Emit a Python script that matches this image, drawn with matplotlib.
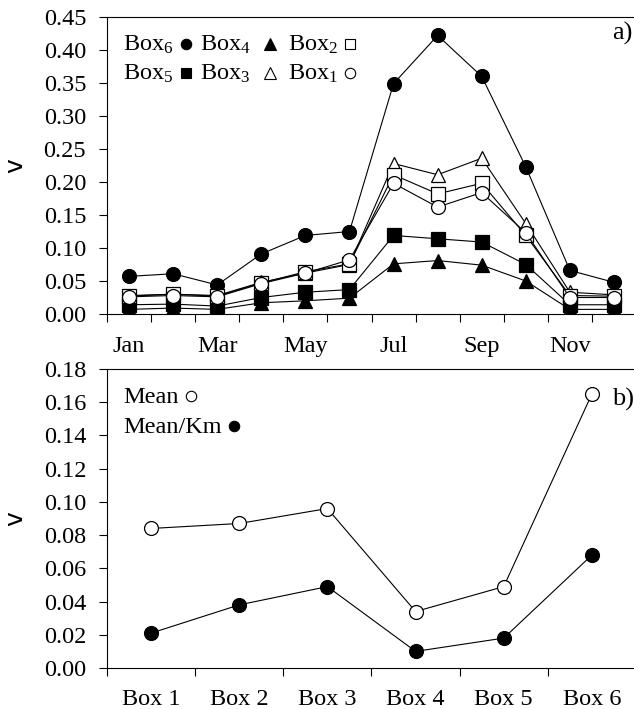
import numpy as np
import matplotlib
matplotlib.use("Agg")
import matplotlib.pyplot as plt

plt.rcParams["font.family"] = ["Liberation Serif", "DejaVu Serif"]
plt.rcParams["mathtext.fontset"] = "custom"
plt.rcParams["mathtext.rm"] = "Liberation Serif"
plt.rcParams["mathtext.it"] = "Liberation Serif:italic"

# panel a) monthly values per box
months = ["Jan", "Feb", "Mar", "Apr", "May", "Jun",
          "Jul", "Aug", "Sep", "Oct", "Nov", "Dec"]
box6 = [0.057, 0.061, 0.044, 0.091, 0.119, 0.125, 0.349, 0.422, 0.360, 0.223, 0.066, 0.048]
box5 = [0.014, 0.015, 0.012, 0.025, 0.033, 0.037, 0.119, 0.114, 0.109, 0.075, 0.014, 0.014]
box4 = [0.007, 0.009, 0.007, 0.017, 0.020, 0.024, 0.076, 0.081, 0.074, 0.050, 0.007, 0.007]
box3 = [0.028, 0.030, 0.028, 0.048, 0.062, 0.075, 0.228, 0.211, 0.236, 0.137, 0.033, 0.029]
box2 = [0.027, 0.030, 0.027, 0.047, 0.064, 0.076, 0.211, 0.182, 0.198, 0.119, 0.028, 0.027]
box1 = [0.026, 0.028, 0.026, 0.046, 0.062, 0.082, 0.198, 0.162, 0.184, 0.123, 0.025, 0.025]

# panel b) means per box
boxes = ["Box 1", "Box 2", "Box 3", "Box 4", "Box 5", "Box 6"]
mean_v = [0.084, 0.087, 0.096, 0.034, 0.049, 0.165]
mean_km = [0.021, 0.038, 0.049, 0.010, 0.018, 0.068]

fig = plt.figure(figsize=(6.34, 7.09), dpi=100)
W, H = 634.0, 709.0
ax1 = fig.add_axes([107 / W, 1 - 314 / H, (636 - 107) / W, (314 - 17) / H])
ax2 = fig.add_axes([107 / W, 1 - 668 / H, (636 - 107) / W, (668 - 369) / H])

fs = 17.5
lw = 0.8
ms = 10

series = [
    ("Box$_6$", box6, "o", "black"),
    ("Box$_5$", box5, "s", "black"),
    ("Box$_4$", box4, "^", "black"),
    ("Box$_3$", box3, "^", "white"),
    ("Box$_2$", box2, "s", "white"),
    ("Box$_1$", box1, "o", "white"),
]
x = np.arange(len(months))
for lab, vals, mk, fc in series:
    ax1.plot(x, vals, color="black", lw=lw, marker=mk, ms=ms,
             mfc=fc, mec="black", mew=0.9)

# hand-made legend: label text then symbol, 3 columns x 2 rows
col_text = [0.030, 0.176, 0.342]
col_mark = [0.149, 0.308, 0.459]
row_y = [0.905, 0.808]
order = [0, 2, 4, 1, 3, 5]  # row 1: Box6 Box4 Box2; row 2: Box5 Box3 Box1
leg_ms = {"o": 7.5, "s": 7.5, "^": 8.5}
for k, idx in enumerate(order):
    r, c = divmod(k, 3)
    lab, _, mk, fc = series[idx]
    ax1.text(col_text[c], row_y[r], lab, transform=ax1.transAxes,
             fontsize=fs, ha="left", va="center")
    ax1.plot([col_mark[c]], [row_y[r] + 0.005], transform=ax1.transAxes,
             marker=mk, ms=leg_ms[mk], mfc=fc, mec="black", mew=0.8,
             ls="none", clip_on=False)

ax1.set_xlim(-0.5, 11.5)
ax1.set_ylim(0, 0.45)
ax1.set_yticks(np.arange(0, 0.451, 0.05))
ax1.set_yticklabels([f"{v:.2f}" for v in np.arange(0, 0.451, 0.05)])
ax1.set_xticks(np.arange(-0.5, 11.6, 1.0))
ax1.set_xticklabels([])
ax1.set_xticks(x[::2], minor=True)
ax1.set_xticklabels(months[::2], minor=True)
ax1.tick_params(axis="x", which="minor", length=0, pad=16, labelsize=fs)
ax1.tick_params(axis="x", which="major", length=6, width=lw, direction="out")
ax1.tick_params(axis="y", length=6, width=lw, direction="out", pad=9, labelsize=fs)
ax1.set_ylabel("v", fontsize=18, family="DejaVu Sans")
ax1.yaxis.set_label_coords(-0.15, 0.5)

ax1.text(0.955, 0.905, "a)", transform=ax1.transAxes, fontsize=19,
         ha="left", va="bottom")

xb = np.arange(len(boxes))
ax2.plot(xb, mean_v, color="black", lw=lw, marker="o", ms=ms,
         mfc="white", mec="black", mew=0.9)
ax2.plot(xb, mean_km, color="black", lw=lw, marker="o", ms=ms,
         mfc="black", mec="black", mew=0.9)

leg2 = [("Mean", "white", 0.159), ("Mean/Km", "black", 0.240)]
for r, (lab, fc, xm) in enumerate(leg2):
    yy = 0.905 - r * 0.100
    ax2.text(0.030, yy, lab, transform=ax2.transAxes, fontsize=fs,
             ha="left", va="center")
    ax2.plot([xm], [yy + 0.005], transform=ax2.transAxes, marker="o",
             ms=7.5, mfc=fc, mec="black", mew=0.8, ls="none", clip_on=False)

ax2.set_xlim(-0.5, 5.5)
ax2.set_ylim(0, 0.18)
ax2.set_yticks(np.arange(0, 0.181, 0.02))
ax2.set_yticklabels([f"{v:.2f}" for v in np.arange(0, 0.181, 0.02)])
ax2.set_xticks(np.arange(-0.5, 5.6, 1.0))
ax2.set_xticklabels([])
ax2.set_xticks(xb, minor=True)
ax2.set_xticklabels(boxes, minor=True)
ax2.tick_params(axis="x", which="minor", length=0, pad=15, labelsize=fs)
ax2.tick_params(axis="x", which="major", length=6, width=lw, direction="out")
ax2.tick_params(axis="y", length=6, width=lw, direction="out", pad=9, labelsize=fs)
ax2.set_ylabel("v", fontsize=18, family="DejaVu Sans")
ax2.yaxis.set_label_coords(-0.15, 0.5)

ax2.text(0.955, 0.86, "b)", transform=ax2.transAxes, fontsize=19,
         ha="left", va="bottom")

for ax in (ax1, ax2):
    for sp in ax.spines.values():
        sp.set_linewidth(lw)

fig.savefig("out.png", dpi=100)
